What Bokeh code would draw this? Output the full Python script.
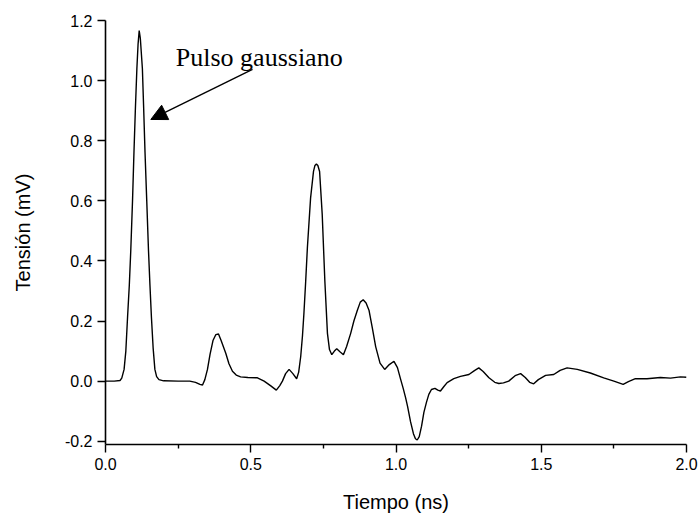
from bokeh.plotting import figure
from bokeh.models import Range1d, FixedTicker, PrintfTickFormatter, Arrow, NormalHead, Label
from bokeh.embed import file_html
from bokeh.resources import INLINE

# Time (ns) and voltage (mV)
tiempo = [0.000, 0.030, 0.050, 0.056, 0.064, 0.070, 0.076, 0.082, 0.087, 0.093,
          0.098, 0.103, 0.108, 0.112, 0.116, 0.120, 0.127, 0.131, 0.136, 0.142,
          0.148, 0.153, 0.158, 0.164, 0.170, 0.176, 0.184, 0.200, 0.250, 0.290,
          0.310, 0.325, 0.334, 0.342, 0.351, 0.360, 0.370, 0.380, 0.389, 0.398,
          0.414, 0.425, 0.437, 0.450, 0.465, 0.490, 0.523, 0.546, 0.569, 0.588,
          0.600, 0.609, 0.620, 0.632, 0.645, 0.658, 0.665, 0.672, 0.678, 0.683,
          0.689, 0.695, 0.706, 0.716, 0.721, 0.726, 0.731, 0.737, 0.746, 0.755,
          0.764, 0.771, 0.779, 0.788, 0.796, 0.807, 0.819, 0.830, 0.844, 0.855,
          0.867, 0.877, 0.887, 0.897, 0.907, 0.918, 0.930, 0.945, 0.961, 0.977,
          0.993, 1.005, 1.016, 1.025, 1.033, 1.040, 1.050, 1.060, 1.067, 1.073,
          1.080, 1.088, 1.096, 1.105, 1.113, 1.122, 1.134, 1.144, 1.153, 1.165,
          1.176, 1.199, 1.222, 1.251, 1.270, 1.285, 1.300, 1.320, 1.340, 1.354,
          1.370, 1.388, 1.410, 1.429, 1.445, 1.460, 1.474, 1.490, 1.515, 1.543,
          1.565, 1.589, 1.624, 1.669, 1.715, 1.750, 1.782, 1.800, 1.824, 1.864,
          1.910, 1.945, 1.979, 2.000]
tension = [0.000, 0.000, 0.002, 0.010, 0.039, 0.100, 0.214, 0.320, 0.435, 0.600,
           0.763, 0.910, 1.040, 1.120, 1.167, 1.140, 1.040, 0.920, 0.763, 0.600,
           0.435, 0.320, 0.214, 0.110, 0.039, 0.015, 0.005, 0.001, 0.000, 0.000,
           -0.004, -0.011, -0.013, 0.005, 0.039, 0.090, 0.135, 0.155, 0.157, 0.135,
           0.093, 0.058, 0.033, 0.020, 0.014, 0.012, 0.011, 0.000, -0.016, -0.030,
           -0.015, 0.000, 0.025, 0.039, 0.025, 0.008, 0.030, 0.082, 0.150, 0.225,
           0.330, 0.445, 0.610, 0.698, 0.718, 0.723, 0.718, 0.698, 0.555, 0.335,
           0.159, 0.105, 0.088, 0.100, 0.108, 0.098, 0.088, 0.115, 0.159, 0.200,
           0.236, 0.263, 0.271, 0.260, 0.236, 0.180, 0.115, 0.060, 0.039, 0.055,
           0.066, 0.045, 0.006, -0.025, -0.055, -0.085, -0.135, -0.175, -0.192, -0.196,
           -0.185, -0.150, -0.104, -0.070, -0.044, -0.028, -0.024, -0.030, -0.033, -0.018,
           -0.005, 0.008, 0.016, 0.022, 0.035, 0.044, 0.032, 0.011, -0.004, -0.008,
           -0.006, 0.000, 0.018, 0.025, 0.012, -0.004, -0.009, 0.005, 0.019, 0.022,
           0.036, 0.044, 0.039, 0.027, 0.011, 0.000, -0.011, -0.002, 0.008, 0.008,
           0.012, 0.010, 0.014, 0.013]

x_ticks = [0.0, 0.5, 1.0, 1.5, 2.0]
x_minor_ticks = [0.25, 0.75, 1.25, 1.75]
y_ticks = [-0.2, 0.0, 0.2, 0.4, 0.6, 0.8, 1.0, 1.2]

annot_text = "Pulso gaussiano"
annot_pos = (0.242, 1.077)
arrow_start = (0.506, 1.038)
arrow_end = (0.156, 0.871)

p = figure(width=698, height=515, output_backend="svg", toolbar_location=None,
           x_range=Range1d(0.0, 2.0), y_range=Range1d(-0.211, 1.2005),
           min_border_left=105, min_border_right=12, min_border_top=20, min_border_bottom=66)
p.outline_line_color = None
p.grid.grid_line_color = None
p.background_fill_color = "white"
p.border_fill_color = "white"

p.line(tiempo, tension, line_color="black", line_width=1.4)

for ax in (p.xaxis[0], p.yaxis[0]):
    ax.axis_line_width = 1.6
    ax.axis_line_color = "black"
    ax.major_tick_line_width = 1.4
    ax.minor_tick_line_width = 1.4
    ax.major_tick_in = 0
    ax.major_tick_out = 8
    ax.minor_tick_in = 0
    ax.minor_tick_out = 4
    ax.major_label_text_font = "Liberation Sans"
    ax.major_label_text_font_size = "16px"
    ax.major_label_text_color = "black"
    ax.axis_label_text_font = "Liberation Sans"
    ax.axis_label_text_font_size = "20px"
    ax.axis_label_text_font_style = "normal"
    ax.axis_label_text_color = "black"
    ax.major_label_standoff = 5
    ax.formatter = PrintfTickFormatter(format="%.1f")

p.xaxis[0].ticker = FixedTicker(ticks=x_ticks, minor_ticks=x_minor_ticks)
p.yaxis[0].ticker = FixedTicker(ticks=y_ticks, minor_ticks=[])
p.xaxis[0].axis_label = "Tiempo (ns)"
p.yaxis[0].axis_label = "Tensión (mV)"
p.xaxis[0].axis_label_standoff = 18
p.yaxis[0].axis_label_standoff = 28

p.add_layout(Arrow(end=NormalHead(size=16, fill_color="black", line_color="black", line_width=1),
                   x_start=arrow_start[0], y_start=arrow_start[1],
                   x_end=arrow_end[0], y_end=arrow_end[1],
                   line_color="black", line_width=1.4))
p.add_layout(Label(x=annot_pos[0], y=annot_pos[1], text=annot_text,
                   text_font="Liberation Serif", text_font_size="26px",
                   text_color="black", text_baseline="alphabetic"))

open("out.html", "w").write(file_html(p, INLINE))
